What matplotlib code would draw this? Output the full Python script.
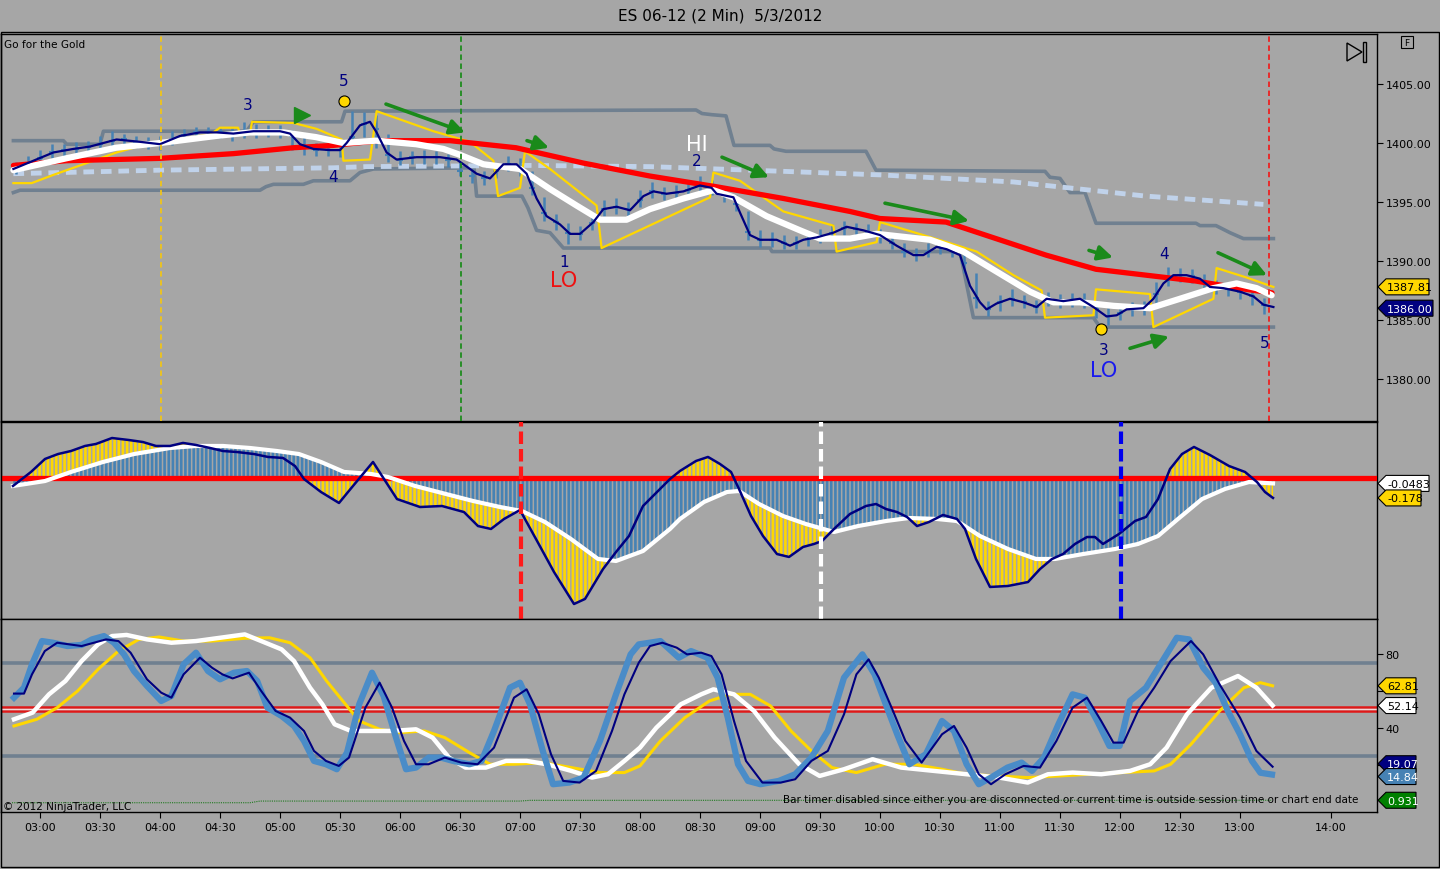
import numpy as np
import matplotlib
matplotlib.use("Agg")
import matplotlib.pyplot as plt
from matplotlib.patches import Polygon, Rectangle

# Colours
BG = "#a6a6a6"
STEEL = "#4682b4"
LBLUE = "#4a8cc8"
GOLD = "#ffd700"
NAVY = "#000080"
SLATE = "#708090"
GREEN = "#1a8a1a"

# ---------------- price panel data (time = minutes after midnight) ----------------
bar_close = [1397.9, 1398.3, 1398.7, 1399.2, 1399.4, 1399.5, 1399.7, 1399.9, 1400.2, 1400.3,
             1400.1, 1400.0, 1399.9, 1400.3, 1400.7, 1400.9, 1400.9, 1400.9, 1400.8, 1400.9,
             1401.0, 1401.0, 1401.0, 1400.6, 1399.7, 1399.4, 1399.4, 1399.4, 1400.5, 1401.6,
             1401.2, 1399.0, 1398.6, 1398.8, 1398.8, 1398.8, 1398.6, 1397.6, 1397.2, 1397.0,
             1397.6, 1398.2, 1398.0, 1396.2, 1394.1, 1393.3, 1392.4, 1392.3, 1393.2, 1394.4,
             1394.6, 1394.4, 1395.2, 1395.9, 1395.7, 1395.8, 1396.0, 1396.4, 1396.1, 1395.6,
             1394.8, 1392.5, 1391.8, 1391.8, 1391.5, 1391.5, 1391.9, 1392.1, 1392.4, 1392.8,
             1392.7, 1392.5, 1392.1, 1391.5, 1390.8, 1390.5, 1390.8, 1391.2, 1390.9, 1389.8,
             1386.9, 1385.9, 1386.5, 1386.8, 1386.5, 1386.1, 1386.8, 1386.6, 1386.7, 1386.6,
             1385.9, 1385.3, 1385.6, 1385.9, 1386.0, 1387.2, 1388.6, 1388.8, 1388.7, 1388.3,
             1387.8, 1387.6, 1387.4, 1387.0, 1386.3]
bar_high = [1398.4, 1398.9, 1399.4, 1399.9, 1399.9, 1400.1, 1400.2, 1400.6, 1401.0, 1400.8,
            1400.6, 1400.5, 1400.6, 1401.0, 1401.2, 1401.4, 1401.4, 1401.3, 1401.3, 1401.8,
            1401.6, 1401.5, 1401.5, 1401.1, 1400.5, 1400.0, 1399.9, 1400.0, 1402.7, 1402.6,
            1402.4, 1400.8, 1399.3, 1399.3, 1399.4, 1399.3, 1399.1, 1398.4, 1397.8, 1397.6,
            1398.3, 1398.9, 1398.7, 1397.6, 1395.4, 1394.0, 1393.2, 1393.0, 1393.9, 1395.2,
            1395.3, 1395.0, 1396.0, 1396.7, 1396.3, 1396.4, 1396.6, 1397.2, 1396.9, 1396.2,
            1395.6, 1394.2, 1392.6, 1392.5, 1392.2, 1392.1, 1392.5, 1392.7, 1393.1, 1393.4,
            1393.2, 1393.1, 1392.7, 1392.2, 1391.5, 1391.1, 1391.5, 1391.8, 1391.5, 1390.7,
            1389.0, 1386.6, 1387.1, 1387.6, 1387.1, 1386.7, 1387.4, 1387.2, 1387.3, 1387.3,
            1386.6, 1386.0, 1386.2, 1386.5, 1386.6, 1388.2, 1389.5, 1389.4, 1389.3, 1388.9,
            1388.4, 1388.2, 1388.0, 1387.6, 1386.9]
bar_low = [1397.4, 1397.8, 1398.2, 1398.7, 1398.9, 1399.0, 1399.2, 1399.4, 1399.7, 1399.8,
           1399.6, 1399.5, 1399.4, 1399.8, 1400.2, 1400.4, 1400.4, 1400.4, 1400.2, 1400.4,
           1400.4, 1400.5, 1400.4, 1399.4, 1399.0, 1398.9, 1398.9, 1398.8, 1400.0, 1400.5,
           1399.6, 1398.4, 1398.1, 1398.2, 1398.2, 1398.2, 1398.0, 1397.2, 1396.6, 1396.4,
           1397.0, 1397.6, 1397.2, 1395.6, 1393.4, 1392.6, 1391.4, 1391.8, 1392.6, 1393.8,
           1394.0, 1393.8, 1394.6, 1395.3, 1395.2, 1395.3, 1395.5, 1395.9, 1395.6, 1395.0,
           1394.2, 1391.8, 1391.2, 1391.2, 1391.0, 1391.0, 1391.3, 1391.5, 1391.9, 1392.2,
           1392.1, 1392.0, 1391.5, 1391.0, 1390.3, 1390.0, 1390.3, 1390.6, 1390.3, 1389.0,
           1386.0, 1385.3, 1385.8, 1386.2, 1386.0, 1385.6, 1386.2, 1386.0, 1386.1, 1386.0,
           1385.2, 1384.6, 1385.0, 1385.3, 1385.4, 1386.4, 1387.9, 1388.2, 1388.1, 1387.5,
           1387.2, 1387.0, 1386.8, 1386.3, 1385.5]
bar_first = 168
bar_step = 6

fast_t = [166.7, 176.7, 186.7, 196.7, 205, 218.3, 230, 240, 250, 260, 268.3, 276.7, 286.7, 300,
          305, 310, 316.7, 325, 330, 333.3, 340, 345, 348.3, 353.3, 358.3, 368.3, 380, 388.3,
          391.7, 398.3, 405, 411.7, 418.3, 423.3, 428.3, 433.3, 440, 445, 450, 456.7, 461.7,
          468.3, 475, 481.7, 486.7, 493.3, 501.7, 510, 515.8, 518.3, 526.7, 530, 535, 540,
          548.3, 555, 561.7, 568.3, 576.7, 583.3, 591.7, 600, 608.3, 616.7, 621.7, 628.3,
          633.3, 640, 645, 650, 653.3, 658.3, 665, 671.7, 678.3, 683.3, 691.7, 700, 706.7,
          713.3, 718.3, 723.3, 731.7, 736.7, 741.7, 746.7, 753.3, 760, 765, 771.7, 780,
          786.7, 791.7, 796.7]
fast_p = [1397.8, 1398.5, 1399.2, 1399.5, 1399.7, 1400.3, 1400.1, 1399.9, 1400.6, 1400.9,
          1400.9, 1400.8, 1401.0, 1401.0, 1400.8, 1399.9, 1399.5, 1399.4, 1399.4, 1400.0,
          1401.5, 1401.8, 1400.9, 1399.2, 1398.6, 1398.8, 1398.8, 1398.6, 1398.2, 1397.4,
          1397.0, 1398.2, 1398.2, 1397.4, 1395.3, 1393.8, 1393.1, 1392.3, 1392.3, 1393.3,
          1394.4, 1394.6, 1394.3, 1395.5, 1395.9, 1395.7, 1395.9, 1396.4, 1396.2, 1395.7,
          1395.4, 1394.1, 1392.2, 1391.8, 1391.8, 1391.3, 1391.8, 1392.0, 1392.4, 1392.9,
          1392.6, 1392.2, 1391.3, 1390.5, 1390.5, 1391.2, 1391.0, 1390.5, 1387.9, 1386.5,
          1385.9, 1386.4, 1386.8, 1386.5, 1386.1, 1386.8, 1386.6, 1386.8, 1386.1, 1385.3,
          1385.4, 1385.9, 1386.0, 1386.8, 1388.1, 1388.8, 1388.8, 1388.5, 1387.8, 1387.7,
          1387.4, 1387.0, 1386.3, 1386.1]

white_ma_t = [166.7, 193, 218, 240, 268, 285, 301.7, 318, 331.7, 348, 368, 381.7, 390, 401.7,
              420, 435, 448.3, 460, 473.3, 485, 501.7, 516.7, 526.7, 543.3, 560, 570, 585,
              598.3, 625, 641.7, 658.3, 675, 686.7, 700, 716.7, 735, 750, 766.7, 778.3, 788.3,
              795.8]
white_ma_p = [1397.7, 1398.7, 1399.6, 1400.0, 1400.6, 1400.9, 1400.9, 1400.5, 1400.0, 1400.2,
              1399.9, 1399.5, 1399.0, 1398.2, 1397.8, 1396.1, 1394.7, 1393.5, 1393.5, 1394.4,
              1395.3, 1396.0, 1395.4, 1393.8, 1392.6, 1391.9, 1391.9, 1392.3, 1391.8, 1390.8,
              1389.1, 1387.4, 1386.5, 1386.5, 1386.2, 1386.0, 1386.8, 1387.7, 1388.1, 1387.7,
              1387.1]

red_ma_t = [166.7, 193, 240, 276.7, 306.7, 326.7, 350, 385, 418, 451.7, 485, 518, 551.7, 585,
            600, 633, 658, 683, 708, 733, 758, 783, 796]
red_ma_p = [1398.1, 1398.5, 1398.7, 1399.1, 1399.6, 1399.8, 1400.2, 1400.2, 1399.6, 1398.3,
            1397.2, 1396.3, 1395.3, 1394.2, 1393.6, 1393.3, 1391.9, 1390.5, 1389.3, 1388.8,
            1388.3, 1387.6, 1387.3]

slow_ma_t = [166.7, 240, 326.7, 343, 425, 485, 551.7, 600, 666.7, 733, 791.7]
slow_ma_p = [1397.4, 1397.7, 1397.9, 1398.0, 1398.1, 1398.0, 1397.6, 1397.3, 1396.7, 1395.5,
             1394.8]

band_t = [166.7, 175.8, 186.7, 201.7, 218.3, 233.3, 250, 260, 265, 270, 279, 280, 285, 286,
          306.7, 318.3, 330.8, 331.7, 345, 348.3, 360, 376.7, 395, 406.7, 409, 420, 422.5,
          435, 458.3, 460.8, 515, 516.7, 530, 551.7, 576.7, 578.3, 598.3, 600, 633.3, 648.3,
          666.7, 680.8, 682.5, 706.7, 708, 735, 736.7, 766.7, 768.3, 783.3, 796.7]
band_p = [1396.6, 1396.6, 1397.3, 1398.2, 1399.2, 1399.9, 1400.2, 1400.6, 1400.7, 1401.3,
          1401.3, 1400.8, 1400.8, 1401.8, 1401.7, 1401.2, 1400.3, 1398.5, 1398.6, 1402.7,
          1402.0, 1401.0, 1400.1, 1398.5, 1395.5, 1396.2, 1399.3, 1397.8, 1394.7, 1391.1,
          1395.4, 1397.5, 1396.8, 1394.2, 1393.0, 1390.8, 1391.6, 1393.3, 1391.6, 1390.8,
          1388.8, 1387.5, 1385.2, 1385.4, 1387.6, 1387.2, 1384.4, 1386.8, 1389.4, 1388.6,
          1387.8]

upper_t = [166.7, 191.7, 193.3, 210, 211.7, 283.3, 286.7, 330.8, 332.5, 508, 511, 516, 523,
           527, 545, 547, 553, 593, 598, 682.5, 685, 690, 695, 702.5, 708, 758, 760, 768, 775,
           781.7, 796.7]
upper_p = [1400.2, 1400.2, 1399.9, 1399.9, 1401.0, 1401.0, 1401.8, 1401.8, 1402.7, 1402.8,
           1402.5, 1402.4, 1402.3, 1399.8, 1399.8, 1399.5, 1399.3, 1399.3, 1397.7, 1397.6,
           1397.1, 1397.0, 1395.8, 1395.8, 1393.2, 1393.2, 1393.0, 1393.0, 1392.4, 1391.9,
           1391.9]
lower_t = [166.7, 170, 290, 293, 296.7, 311.7, 316.7, 335, 340, 346.7, 397, 398.3, 421, 424,
           428.3, 435, 441.7, 545, 546, 640, 646.7, 706.7, 710, 796.7]
lower_p = [1395.8, 1396.0, 1396.0, 1396.3, 1396.5, 1396.5, 1396.8, 1396.8, 1397.5, 1397.8,
           1397.9, 1395.5, 1395.5, 1394.5, 1392.6, 1392.4, 1391.1, 1391.1, 1390.8, 1390.8,
           1385.2, 1385.2, 1384.4, 1384.4]

price_ticks = [1380, 1385, 1390, 1395, 1400, 1405]

# ---------------- MACD panel data ----------------
macd_t = [166.5, 175.5, 182.5, 189, 195.5, 202.5, 208, 216, 224.5, 231.5, 238, 245, 251.5, 258,
          265, 271.5, 278.5, 287, 294, 301.5, 307.5, 312, 320.5, 329.5, 336.5, 346.5, 352,
          358.5, 370, 381, 392, 399, 405.5, 412, 420, 428, 437, 447, 452.5, 461.5, 468, 474.5,
          481.5, 495, 500, 508, 514, 520, 525.5, 529.5, 535.5, 541.5, 548.5, 554.5, 561.5,
          567, 571, 577, 585, 593, 598, 603, 608.5, 613.5, 618.5, 624.5, 631.5, 638.5, 642.5,
          648, 655, 664, 674, 680, 686, 691.5, 697.5, 703.5, 707.5, 711.5, 719.5, 727.5, 733,
          739, 745, 751, 757, 765, 774.5, 782.5, 788.5, 792.5, 796.5]
macd_v = [-0.071, 0.054, 0.170, 0.214, 0.241, 0.286, 0.304, 0.357, 0.339, 0.321, 0.286, 0.286,
          0.313, 0.295, 0.268, 0.241, 0.232, 0.214, 0.188, 0.179, 0.107, -0.009, -0.125,
          -0.223, -0.071, 0.143, -0.009, -0.188, -0.259, -0.250, -0.304, -0.429, -0.455,
          -0.366, -0.286, -0.545, -0.839, -1.125, -1.080, -0.813, -0.661, -0.518, -0.250,
          -0.009, 0.063, 0.152, 0.188, 0.125, 0.054, -0.098, -0.339, -0.518, -0.679, -0.705,
          -0.616, -0.589, -0.563, -0.455, -0.321, -0.250, -0.232, -0.277, -0.304, -0.348,
          -0.429, -0.393, -0.330, -0.366, -0.455, -0.723, -0.973, -0.964, -0.929, -0.813,
          -0.723, -0.679, -0.589, -0.527, -0.527, -0.589, -0.500, -0.384, -0.348, -0.188,
          0.080, 0.214, 0.277, 0.205, 0.107, 0.054, -0.036, -0.125, -0.178]
signal_t = [166.5, 182.5, 195.5, 211.5, 227, 245, 258, 271.5, 285, 298.5, 309.5, 320.5, 332,
            345.5, 354, 367.5, 383, 396.5, 410, 421, 432.5, 445.5, 459, 468, 481.5, 495, 500,
            512, 523.5, 529.5, 539.5, 551.5, 563, 577, 589, 603, 614.5, 628.5, 638.5, 650, 664,
            678, 687.5, 701.5, 717.5, 729, 739, 749, 761, 772.5, 784.5, 796.5]
signal_v = [-0.071, -0.027, 0.054, 0.143, 0.214, 0.268, 0.286, 0.286, 0.268, 0.241, 0.214,
            0.143, 0.054, 0.036, 0.009, -0.071, -0.143, -0.205, -0.259, -0.295, -0.393,
            -0.545, -0.723, -0.741, -0.652, -0.455, -0.366, -0.214, -0.125, -0.116, -0.232,
            -0.339, -0.411, -0.482, -0.429, -0.384, -0.357, -0.366, -0.384, -0.518, -0.634,
            -0.723, -0.723, -0.679, -0.634, -0.589, -0.518, -0.366, -0.188, -0.098, -0.036,
            -0.0483]

# ---------------- stochastics panel data ----------------
stk_fast_t = [167, 172, 176, 181, 186.5, 193.7, 200.8, 206, 212, 217, 222, 227, 233.5, 240.6,
              245.7, 251.8, 258, 264, 270, 277, 283.5, 288.6, 293.7, 300.8, 307, 312, 317, 323,
              328.4, 333.5, 339.6, 346, 351.8, 358, 363, 368, 374.3, 380.4, 386.5, 394.7,
              400.8, 407, 415, 420, 425, 431.4, 436.5, 444.7, 451.8, 460, 468, 475.3, 479.4,
              490.2, 499.4, 505.5, 513.7, 518.8, 523.9, 529, 534, 540.2, 549.4, 557.6, 565.7,
              573.9, 582, 591.2, 597.3, 603.5, 608.6, 614.7, 622.9, 631, 637, 643.3, 649.4,
              655.5, 663.7, 670.8, 676, 682, 689.2, 696.3, 702.4, 708.6, 714.7, 719.8, 725,
              733, 740.2, 748.4, 754.5, 761.6, 767.8, 773.9, 780, 786, 790.2, 796]
stk_fast_v = [56.4, 61.8, 74.4, 87.0, 86.1, 84.3, 84.9, 87.9, 89.7, 86.1, 79.8, 70.8, 62.7,
              54.6, 57.3, 74.4, 80.7, 70.8, 66.3, 69.9, 70.8, 65.4, 51.0, 46.5, 41.1, 33.0,
              22.2, 20.4, 17.7, 26.7, 52.8, 69.9, 57.3, 34.8, 17.7, 18.6, 24.0, 24.0, 22.2,
              20.4, 22.2, 38.4, 61.8, 64.5, 52.8, 27.6, 9.6, 10.5, 13.2, 33.0, 58.2, 79.8, 85.2,
              87.0, 78.0, 81.6, 78.0, 67.2, 45.6, 20.4, 11.4, 9.6, 11.4, 15.0, 24.0, 38.4,
              67.2, 79.8, 69.0, 51.0, 36.6, 20.4, 25.8, 43.8, 38.4, 20.4, 9.6, 13.2, 18.6,
              21.3, 16.8, 24.0, 42.0, 58.2, 56.4, 43.8, 30.3, 30.3, 54.6, 61.8, 74.4, 88.8,
              87.9, 72.6, 64.5, 49.2, 36.6, 22.2, 15.8, 14.84]
stk_slow_t = [167, 172, 176, 182.4, 188.6, 194.7, 200.8, 207, 213, 219.2, 225.3, 233.5, 240.6,
              245.7, 251.8, 260, 266, 271.2, 276.3, 284.5, 290.6, 297.8, 305, 312, 317, 323,
              329.4, 334.5, 342.7, 349.8, 356, 362, 368, 374.3, 382.4, 390.6, 398.8, 407, 417,
              423.3, 429.4, 435.5, 441.6, 449.8, 458, 466, 472.2, 479.4, 485, 491.2, 498.4,
              503.5, 510.6, 515.7, 520.8, 527, 533, 541.2, 550.4, 557.6, 565.7, 573.9, 582,
              588.2, 594.3, 599.4, 606.5, 612.7, 620.8, 631, 637, 643.3, 649.4, 655.5, 662.7,
              671.8, 680, 688.2, 696.3, 703.5, 710.6, 716.7, 721.8, 729, 737.1, 745.3, 755.5,
              761.6, 769.8, 780, 788.2, 796.3]
stk_slow_v = [58.6, 58.6, 69.0, 81.6, 86.1, 85.2, 84.3, 86.1, 87.9, 87.0, 80.7, 66.3, 59.1,
              56.4, 69.0, 78.0, 72.6, 69.0, 66.8, 69.9, 60.0, 49.2, 45.6, 38.4, 27.6, 22.2,
              19.5, 24.0, 51.0, 64.5, 51.0, 33.0, 20.4, 20.4, 24.0, 21.3, 20.4, 29.4, 56.4,
              60.9, 47.4, 25.8, 11.4, 10.5, 16.8, 38.4, 58.2, 75.3, 84.3, 86.1, 83.4, 79.8,
              80.7, 78.9, 69.0, 43.8, 22.2, 10.5, 10.5, 12.3, 22.2, 27.6, 47.4, 69.0, 77.1,
              67.2, 49.2, 33.0, 21.3, 36.6, 41.1, 29.4, 15.0, 9.6, 15.0, 19.5, 18.6, 33.0,
              51.0, 56.4, 43.8, 32.1, 32.1, 49.2, 61.8, 76.2, 87.0, 79.8, 63.6, 45.6, 27.6,
              19.07]
stk_d_t = [167, 176.3, 184.5, 192.7, 200.8, 209, 216, 223.3, 233.5, 245.7, 258, 270.2, 282.4,
           290.6, 300.8, 307, 315, 321.2, 327.3, 335.5, 343.7, 356, 368, 376.3, 384.5, 392.7,
           402.9, 413, 423.3, 433.5, 445.7, 456, 464, 472.2, 480, 488.2, 500.4, 510.6, 516.7,
           527, 537, 547.3, 559.6, 569.8, 582, 596.3, 610.6, 627, 643.3, 659.6, 673.9, 684,
           696.3, 710.6, 725, 735.1, 743.3, 753.5, 765.7, 779, 788.2, 796.3]
stk_d_v = [44.7, 48.3, 58.2, 65.4, 76.2, 85.2, 89.7, 90.3, 87.9, 86.1, 87.0, 88.8, 90.6, 87.0,
           82.5, 76.2, 61.8, 52.8, 42.0, 38.4, 38.4, 38.4, 39.3, 34.8, 24.0, 18.6, 18.6, 22.2,
           22.2, 20.4, 16.8, 13.2, 15.0, 22.2, 29.4, 40.2, 52.8, 58.2, 60.9, 58.2, 49.2, 34.8,
           20.4, 14.1, 17.7, 23.1, 18.6, 16.8, 15.0, 13.2, 10.5, 15.0, 15.9, 15.0, 16.8, 20.4,
           29.4, 47.4, 61.8, 68.1, 61.8, 52.14]
stk_sd_t = [167, 178.4, 188.6, 198.8, 209, 219.2, 229.4, 239.6, 251.8, 266, 282.4, 294.7, 305,
            315, 323.3, 331.4, 339.6, 349.8, 360, 372.2, 382.4, 394.7, 405, 417, 431.4, 445.7,
            460, 472.2, 480, 490.2, 502.4, 514.7, 525, 535.1, 545.3, 555.5, 565.7, 576, 588.2,
            602.4, 616.7, 631, 643.3, 657.6, 673.9, 690.2, 704.5, 720.8, 737.1, 745.3, 755.5,
            769.8, 782, 790.2, 796.3]
stk_sd_v = [41.1, 44.7, 51.0, 60.0, 71.7, 81.6, 87.9, 89.2, 87.0, 87.0, 88.5, 88.8, 86.1, 78.0,
            65.4, 54.6, 43.8, 39.3, 37.5, 38.4, 34.8, 26.7, 20.4, 20.4, 21.3, 18.6, 15.9, 15.9,
            19.5, 33.0, 45.6, 54.6, 58.2, 58.2, 51.9, 38.4, 27.6, 18.6, 15.9, 20.4, 20.4, 17.7,
            15.0, 14.1, 13.2, 14.1, 15.0, 15.9, 16.8, 20.4, 31.2, 49.2, 61.8, 64.5, 62.81]
extra_t = [166, 285, 290, 420, 425, 796]
extra_v = [-0.4, -0.4, 0.5, 0.5, 0.9, 0.931]

# time axis: 30-min labels up to 13:00, then 14:00 sits in the compressed right margin
time_ticks = list(range(180, 781, 30)) + [825.5]
time_labels = ["%02d:%02d" % (m // 60, m % 60) for m in range(180, 781, 30)] + ["14:00"]

# ---------------- figure ----------------
plt.rcParams["font.family"] = ["DejaVu Sans"]
plt.rcParams["hatch.linewidth"] = 1.9

W, H = 1440, 870
fig = plt.figure(figsize=(W / 100, H / 100), dpi=100, facecolor=BG)


def px_axes(x0, y0, x1, y1):
    return fig.add_axes([x0 / W, 1 - y1 / H, (x1 - x0) / W, (y1 - y0) / H], facecolor=BG)


XL = (160.5, 848.5)
ax1 = px_axes(1, 35, 1377, 422)
ax2 = px_axes(1, 423, 1377, 620)
ax3 = px_axes(1, 620, 1377, 813)

for ax in (ax1, ax2, ax3):
    ax.set_xlim(*XL)
    for s in ax.spines.values():
        s.set_color("black")
        s.set_linewidth(1)
    ax.yaxis.tick_right()
    ax.tick_params(axis="y", direction="out", length=4, labelsize=8, pad=2)
    ax.tick_params(axis="x", bottom=False, labelbottom=False)

# ---- price panel
ax1.set_ylim(1376.44, 1409.24)
ax1.set_yticks(price_ticks)
ax1.set_yticklabels(["%.2f" % v for v in price_ticks])

ax1.plot(upper_t, upper_p, color=SLATE, lw=2.6, zorder=2)
ax1.plot(lower_t, lower_p, color=SLATE, lw=2.6, zorder=2)
ax1.plot(slow_ma_t, slow_ma_p, color="#c0d2ea", lw=3.5, dashes=(2.2, 1.4), zorder=2)
bar_t = bar_first + bar_step * np.arange(len(bar_close))
ax1.vlines(bar_t, bar_low, bar_high, color=STEEL, lw=1.8, zorder=3)
ax1.hlines(bar_close, bar_t, bar_t + 1.4, color=STEEL, lw=1.5, zorder=3)
ax1.hlines(bar_close, bar_t - 1.4, bar_t, color=STEEL, lw=1.5, zorder=3)
ax1.plot(band_t, band_p, color=GOLD, lw=1.6, zorder=4)
ax1.plot(red_ma_t, red_ma_p, color="#ff0000", lw=3.8, zorder=5, solid_capstyle="round")
ax1.plot(white_ma_t, white_ma_p, color="white", lw=4.5, zorder=6, solid_capstyle="round")
ax1.plot(fast_t, fast_p, color=NAVY, lw=1.6, zorder=7)

for t, c in [(240.5, "#f0c419"), (390.5, "#1e8c1e"), (794.5, "#ee2020")]:
    ax1.axvline(t, color=c, lw=1.3, dashes=(3, 2), zorder=8)

ax1.text(162, 1408.4, "Go for the Gold", fontsize=7.6, color="black", va="center")

for t, p, s in [(284, 1403.3, "3"), (332, 1405.3, "5"), (326.5, 1397.2, "4"), (442, 1390.0, "1"),
                (508.5, 1398.5, "2"), (712, 1382.5, "3"), (742, 1390.6, "4"), (792.5, 1383.1, "5")]:
    ax1.text(t, p, s, fontsize=11, color=NAVY, ha="center", va="center", zorder=9)
ax1.text(508.5, 1399.9, "HI", fontsize=15, color="white", ha="center", va="center", zorder=9)
ax1.text(442, 1388.4, "LO", fontsize=15, color="#ee1111", ha="center", va="center", zorder=9)
ax1.text(712, 1380.8, "LO", fontsize=15, color="#1a1aee", ha="center", va="center", zorder=9)
ax1.plot([332, 710.5], [1403.6, 1384.2], "o", ms=8, mfc=GOLD, mec="black", mew=0.8, zorder=9)
ax1.plot([311], [1402.4], ">", ms=11, color=GREEN, zorder=9)
arrows = [((353, 1403.3), (392.5, 1400.9)), ((423.5, 1400.2), (434.5, 1399.6)),
          ((521, 1398.8), (544.5, 1397.1)), ((602.5, 1394.9), (644.5, 1393.4)),
          ((704.5, 1390.9), (716.5, 1390.3)), ((725, 1382.6), (744.5, 1383.6)),
          ((769, 1390.7), (793.5, 1388.8))]
for a, b in arrows:
    ax1.annotate("", xy=b, xytext=a, zorder=9,
                 arrowprops=dict(arrowstyle="-|>", color=GREEN, lw=2.6, mutation_scale=22,
                                 shrinkA=0, shrinkB=0))

# ---- MACD panel
ax2.set_ylim(-1.259, 0.5)
ax2.set_yticks([])
ax2.fill(np.r_[macd_t, signal_t[::-1]], np.r_[macd_v, signal_v[::-1]],
         facecolor="none", edgecolor=GOLD, hatch="||||", lw=0, zorder=2)
ax2.fill_between(signal_t, 0, signal_v, facecolor=BG, edgecolor=STEEL, hatch="||||", lw=0,
                 zorder=3)
ax2.axhline(0, color="#ff0000", lw=3.8, zorder=4)
ax2.plot(signal_t, signal_v, color="white", lw=3, zorder=5)
ax2.plot(macd_t, macd_v, color=NAVY, lw=1.8, zorder=6)
for t, c in [(420.5, "#ff1a1a"), (570.5, "white"), (720.5, "#0000ee")]:
    ax2.axvline(t, color=c, lw=3, dashes=(3, 1.2), zorder=7)

# ---- stochastics panel
ax3.set_ylim(-5.41, 98.92)
ax3.set_yticks([20, 40, 60, 80])
ax3.set_yticklabels(["", "40", "", "80"])
ax3.set_xticks(time_ticks)
ax3.set_xticklabels(time_labels)
ax3.tick_params(axis="x", bottom=True, labelbottom=True, direction="out", length=4,
                labelsize=8, pad=3)
ax3.axhline(75, color=SLATE, lw=2.6, zorder=2)
ax3.axhline(25, color=SLATE, lw=2.6, zorder=2)
ax3.axhline(51.6, color="#e01818", lw=1.8, zorder=2)
ax3.axhline(49.2, color="#e01818", lw=1.8, zorder=2)
ax3.axhline(50.4, color="#f4d8d8", lw=1.0, zorder=2)
ax3.plot(extra_t, extra_v, color="#1f7a1f", lw=0.8, ls=(0, (1, 1)), zorder=2)
ax3.plot(stk_sd_t, stk_sd_v, color=GOLD, lw=2.2, zorder=3)
ax3.plot(stk_d_t, stk_d_v, color="white", lw=3.2, zorder=4)
ax3.plot(stk_fast_t, stk_fast_v, color=LBLUE, lw=4.5, zorder=5)
ax3.plot(stk_slow_t, stk_slow_v, color=NAVY, lw=1.5, zorder=6)

# ---------------- overlay in figure pixels ----------------
ov = fig.add_axes([0, 0, 1, 1], facecolor="none", zorder=20)
ov.set_xlim(0, W)
ov.set_ylim(H, 0)
ov.axis("off")


def ypix(ax, v):
    return H - ax.transData.transform((XL[0], v))[1]


def tag(ax, v, text, fc, tc, width, dy=0.0):
    yc = ypix(ax, v) + dy
    pts = [(1378, yc), (1386, yc - 8), (1378 + width, yc - 8), (1378 + width, yc + 8),
           (1386, yc + 8)]
    ov.add_patch(Polygon(pts, closed=True, fc=fc, ec="black", lw=0.8))
    ov.text(1387, yc + 0.5, text, fontsize=8, color=tc, ha="left", va="center")


tag(ax1, 1387.81, "1387.81", GOLD, "black", 51)
tag(ax1, 1386.0, "1386.00", NAVY, "white", 55)
tag(ax2, -0.0483, "-0.0483", "white", "black", 51)
tag(ax2, -0.178, "-0.178", GOLD, "black", 43)
tag(ax3, 62.81, "62.81", GOLD, "black", 38)
tag(ax3, 52.14, "52.14", "white", "black", 38)
tag(ax3, 19.07, "19.07", NAVY, "white", 38, dy=-3)
tag(ax3, 14.84, "14.84", STEEL, "white", 38, dy=2)
tag(ax3, 0.931, "0.931", "#008000", "white", 38)

fig.text(0.5, 1 - 16 / H, "ES 06-12 (2 Min)  5/3/2012", ha="center", va="center", fontsize=11)
ov.text(3, 807, "\u00a9 2012 NinjaTrader, LLC", fontsize=7.5, ha="left", va="center")
ov.text(1358, 800, "Bar timer disabled since either you are disconnected or current time is "
        "outside session time or chart end date", fontsize=7.5, ha="right", va="center")

# chart frame and small toolbar glyphs
ov.add_patch(Rectangle((0.5, 33), 1438, 835, fill=False, ec="black", lw=1))
ov.add_patch(Polygon([(1347, 44), (1347, 62), (1362, 53)], closed=True, fill=False, ec="black",
                     lw=1))
ov.add_patch(Rectangle((1363, 43), 3, 20, fill=False, ec="black", lw=1))
ov.add_patch(Rectangle((1401, 37), 12, 12, fill=False, ec="black", lw=0.8))
ov.text(1407, 43.5, "F", fontsize=6.5, ha="center", va="center")

fig.savefig("out.png", dpi=100, facecolor=BG)
